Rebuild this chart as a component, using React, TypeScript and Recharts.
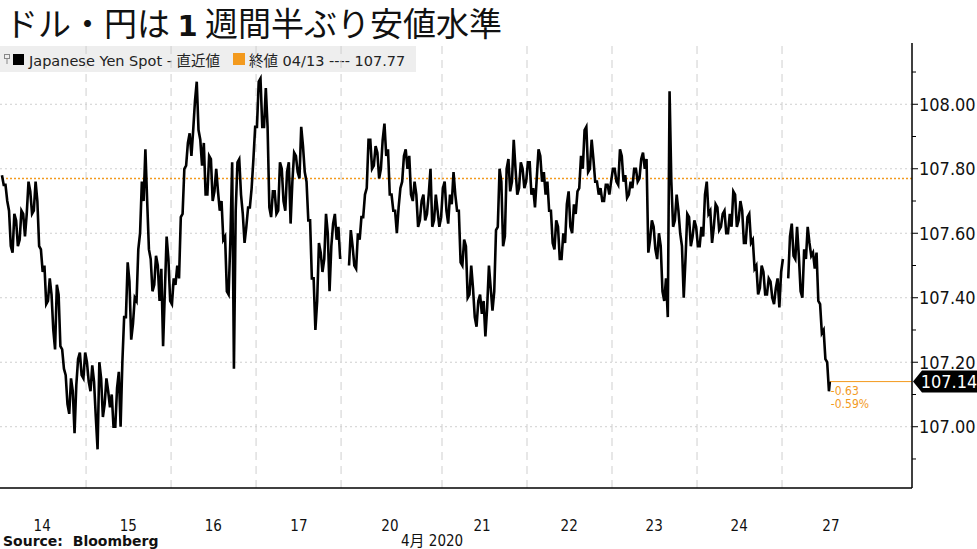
import React from 'react';
import { ComposedChart, Line, XAxis, YAxis, ReferenceLine, ReferenceDot } from 'recharts';

// Hourly high / low readings (USD/JPY), one entry per trading hour
const D14_HI = [107.78,107.75,107.67,107.66,107.64,107.67,107.66,107.76,107.73,107.76,107.70,107.55,107.50,107.46,107.41,107.44,107.41,107.24,107.16,107.15,107.11,107.21,107.23,107.23];
const D14_LO = [107.75,107.70,107.56,107.54,107.56,107.58,107.59,107.66,107.66,107.67,107.56,107.48,107.38,107.39,107.30,107.24,107.25,107.18,107.07,107.04,106.98,107.13,107.16,107.15];
const D15_HI = [107.20,107.19,107.14,107.20,107.15,107.15,107.11,107.10,107.12,107.17,107.34,107.51,107.45,107.40,107.55,107.76,107.86,107.70,107.52,107.53,107.50,107.49,107.59,107.52];
const D15_LO = [107.14,107.11,107.03,106.93,107.03,107.07,107.06,107.00,107.00,107.00,107.20,107.34,107.27,107.32,107.39,107.60,107.70,107.55,107.42,107.44,107.39,107.25,107.42,107.39];
const D16_HI = [107.46,107.50,107.65,107.80,107.88,107.91,108.01,108.07,107.89,107.88,107.84,107.83,107.80,107.73,107.70,107.59,107.58,107.82,107.82,107.83,107.66,107.68,107.74,107.93];
const D16_LO = [107.38,107.44,107.46,107.66,107.81,107.84,107.92,107.92,107.81,107.72,107.72,107.70,107.73,107.67,107.58,107.42,107.41,107.18,107.67,107.72,107.57,107.62,107.68,107.83];
const D17_HI = [108.07,108.08,108.05,107.93,107.73,107.73,107.82,107.80,107.79,107.82,107.85,107.84,107.93,107.87,107.76,107.64,107.46,107.57,107.54,107.66,107.60,107.63,107.66,107.62];
const D17_LO = [107.93,107.93,107.93,107.68,107.65,107.66,107.67,107.70,107.67,107.63,107.76,107.79,107.77,107.79,107.64,107.46,107.30,107.39,107.48,107.52,107.42,107.56,107.58,107.52];
const D20_HI = [107.61,107.56,107.60,107.65,107.72,107.89,107.89,107.87,107.85,107.89,107.94,107.86,107.72,107.67,107.74,107.84,107.86,107.84,107.76,107.72,107.70,107.72,107.72,107.80,107.72,107.67];
const D20_LO = [107.50,107.50,107.49,107.58,107.65,107.74,107.80,107.81,107.77,107.80,107.84,107.72,107.67,107.60,107.68,107.76,107.80,107.72,107.70,107.62,107.64,107.64,107.66,107.62,107.64,107.62];
const D21_HI = [107.74,107.76,107.72,107.79,107.72,107.67,107.58,107.56,107.50,107.43,107.39,107.41,107.39,107.50,107.43,107.61,107.80,107.76,107.80,107.83,107.89,107.80,107.82,107.80];
const D21_LO = [107.65,107.67,107.63,107.69,107.67,107.51,107.50,107.40,107.41,107.34,107.31,107.35,107.28,107.37,107.36,107.42,107.62,107.56,107.59,107.73,107.76,107.72,107.74,107.74];
const D22_HI = [107.82,107.82,107.74,107.86,107.84,107.79,107.76,107.67,107.64,107.62,107.60,107.69,107.73,107.69,107.73,107.84,107.92,107.93,107.89,107.83,107.76,107.74,107.75,107.75];
const D22_LO = [107.76,107.72,107.68,107.77,107.76,107.72,107.67,107.57,107.55,107.52,107.52,107.57,107.62,107.60,107.66,107.74,107.80,107.79,107.80,107.76,107.72,107.70,107.70,107.72];
const D23_HI = [107.80,107.80,107.86,107.84,107.78,107.76,107.80,107.80,107.83,107.85,107.83,107.64,107.62,107.60,107.56,107.46,108.04,107.76,107.72,107.67,107.56,107.66,107.65,107.64];
const D23_LO = [107.76,107.76,107.75,107.76,107.71,107.72,107.74,107.76,107.77,107.80,107.54,107.58,107.55,107.52,107.42,107.39,107.34,107.62,107.64,107.60,107.40,107.52,107.56,107.59];
const D24_HI = [107.62,107.62,107.72,107.76,107.67,107.69,107.68,107.66,107.67,107.66,107.73,107.72,107.70,107.67,107.65,107.66,107.58,107.50,107.50,107.48,107.46,107.45,107.43,107.46,107.52];
const D24_LO = [107.56,107.56,107.59,107.66,107.57,107.62,107.61,107.62,107.60,107.60,107.62,107.62,107.64,107.57,107.57,107.57,107.49,107.41,107.43,107.41,107.41,107.40,107.38,107.37,107.48];
const D27_HI = [107.59,107.63,107.62,107.53,107.55,107.62,107.57,107.54,107.54,107.38,107.30,107.20];
const D27_LO = [107.46,107.53,107.52,107.42,107.40,107.52,107.53,107.49,107.39,107.29,107.21,107.11];

const WEEKEND_GAP: (number | null)[] = [null, null];
const SHORT_GAP: (number | null)[] = [null];

const LAST_VALUE = 107.14;
const PREV_CLOSE = 107.77;
const CHANGE_TEXT = '-0.63';
const CHANGE_PCT_TEXT = '-0.59%';

const DAY_LABELS = ['14', '15', '16', '17', '20', '21', '22', '23', '24', '27'];
const DAY_LABEL_HOURS = [11.6, 35.9, 59.9, 84.1, 109.8, 135.8, 160.4, 184.4, 208.4, 234.3];
const DAY_BOUNDARY_HOURS = [24, 48, 72, 96, 124.5, 148.5, 172.5, 196.5, 220.5];
const Y_MAJOR = [107.0, 107.2, 107.4, 107.6, 107.8, 108.0];
const Y_TICKS = [106.9, 107.0, 107.1, 107.2, 107.3, 107.4, 107.5, 107.6, 107.7, 107.8, 107.9, 108.0, 108.1];
const X_DOMAIN: [number, number] = [-0.3, 257.2];
const Y_DOMAIN: [number, number] = [106.81, 108.19];

const HI: (number | null)[] = [
  ...D14_HI, ...D15_HI, ...D16_HI, ...D17_HI, ...WEEKEND_GAP,
  ...D20_HI, ...D21_HI, ...D22_HI, ...D23_HI, ...D24_HI, ...SHORT_GAP, ...D27_HI,
];
const LO: (number | null)[] = [
  ...D14_LO, ...D15_LO, ...D16_LO, ...D17_LO, ...WEEKEND_GAP,
  ...D20_LO, ...D21_LO, ...D22_LO, ...D23_LO, ...D24_LO, ...SHORT_GAP, ...D27_LO,
];

type Row = { t: number; v: number | null };

function buildSeries(): Row[] {
  const out: Row[] = [];
  let prev = HI[0] as number;
  for (let i = 0; i < HI.length; i++) {
    const hi = HI[i];
    const lo = LO[i];
    if (hi == null || lo == null) {
      out.push({ t: i + 0.5, v: null });
      continue;
    }
    const hiFirst = Math.abs(hi - prev) <= Math.abs(lo - prev);
    const a = hiFirst ? hi : lo;
    const b = hiFirst ? lo : hi;
    out.push({ t: i + 0.25, v: a });
    out.push({ t: i + 0.75, v: b });
    prev = b;
  }
  out.push({ t: HI.length, v: LAST_VALUE });
  return out;
}
const SERIES = buildSeries();
const LAST_T = HI.length;

const ORANGE = '#f39a1e';
const AXIS_FONT = "'DejaVu Sans Condensed', 'DejaVu Sans', 'Noto Sans CJK JP', sans-serif";
const LEGEND_FONT = "'DejaVu Sans', 'Noto Sans CJK JP', sans-serif";

const XTick = (props: any) => {
  const { x, y, payload } = props;
  const idx = DAY_LABEL_HOURS.indexOf(payload.value);
  return (
    <text x={x} y={y + 43} textAnchor="middle" fontSize={15} fontFamily={AXIS_FONT} fill="#111" style={{ fontStretch: 'condensed' }}>
      {DAY_LABELS[idx]}
    </text>
  );
};

const YTick = (props: any) => {
  const { x, y, payload } = props;
  const major = Y_MAJOR.some((m) => Math.abs(m - payload.value) < 1e-6);
  return (
    <g>
      <line x1={x} x2={x + (major ? 6 : 4)} y1={y} y2={y} stroke="#000" strokeWidth={1} />
      {major && (
        <text x={x + 7} y={y} dy="0.36em" textAnchor="start" fontSize={18} fontFamily={AXIS_FONT} fill="#111" style={{ fontStretch: 'condensed' }}>
          {payload.value.toFixed(2)}
        </text>
      )}
    </g>
  );
};

const TagShape = (props: any) => {
  const { cx, cy } = props;
  const pts = `${cx + 1},${cy} ${cx + 10},${cy - 11} ${cx + 66},${cy - 11} ${cx + 66},${cy + 11} ${cx + 10},${cy + 11}`;
  return (
    <g>
      <polygon points={pts} fill="#000" />
      <text x={cx + 37} y={cy} dy="0.36em" textAnchor="middle" fontSize={18} fontFamily={AXIS_FONT} fill="#fff" style={{ fontStretch: 'condensed' }}>
        {LAST_VALUE.toFixed(2)}
      </text>
    </g>
  );
};

const ChangeShape = (props: any) => {
  const { cx, cy } = props;
  return (
    <g>
      <text x={cx + 1} y={cy + 13} fontSize={12} fontFamily={AXIS_FONT} fill={ORANGE} style={{ fontStretch: 'condensed' }}>
        {CHANGE_TEXT}
      </text>
      <text x={cx + 1} y={cy + 26} fontSize={12} fontFamily={AXIS_FONT} fill={ORANGE} style={{ fontStretch: 'condensed' }}>
        {CHANGE_PCT_TEXT}
      </text>
    </g>
  );
};

export default function App() {
  return (
    <div style={{ position: 'relative', width: 977, height: 549, background: '#fff', overflow: 'hidden' }}>
      <style>{'body{margin:0;}'}</style>
      <div
        style={{
          position: 'absolute', left: 5, top: 2, fontSize: 33, lineHeight: '40px',
          fontFamily: "'Noto Sans CJK JP', sans-serif", color: '#111', whiteSpace: 'nowrap',
        }}
      >
        ドル・円は <b style={{ fontFamily: "'DejaVu Sans', sans-serif", fontSize: 29 }}>1</b> 週間半ぶり安値水準
      </div>
      <div
        style={{
          position: 'absolute', left: 0, top: 46, width: 416, height: 26, background: '#eeeeee',
          display: 'flex', alignItems: 'center', fontSize: 14.5, fontFamily: LEGEND_FONT,
          color: '#222', whiteSpace: 'nowrap',
        }}
      >
        <svg width={9} height={14} style={{ marginLeft: 3 }}>
          <rect x={1.5} y={2.5} width={5} height={4} fill="none" stroke="#888" />
          <line x1={4} y1={6.5} x2={4} y2={12} stroke="#888" />
        </svg>
        <span style={{ display: 'inline-block', width: 11, height: 11, background: '#000', marginLeft: 1 }} />
        <span style={{ marginLeft: 5 }}>Japanese Yen Spot - 直近値</span>
        <span style={{ display: 'inline-block', width: 12, height: 12, background: ORANGE, marginLeft: 13 }} />
        <span style={{ marginLeft: 4 }}>終値 04/13 ---- 107.77</span>
      </div>
      <div style={{ position: 'absolute', left: 0, top: 0 }}>
        <ComposedChart width={977} height={549} data={SERIES} margin={{ top: 43, right: 0, bottom: 0, left: 0 }}>
          <XAxis
            dataKey="t" type="number" domain={X_DOMAIN} allowDataOverflow ticks={DAY_LABEL_HOURS}
            interval={0} height={61} tickLine={false} tickSize={0} tickMargin={0}
            axisLine={{ stroke: '#000', strokeWidth: 1.5 }} tick={<XTick />}
          />
          <YAxis
            orientation="right" type="number" domain={Y_DOMAIN} allowDataOverflow ticks={Y_TICKS}
            interval={0} width={65} tickLine={false} tickSize={0} tickMargin={0}
            axisLine={{ stroke: '#000', strokeWidth: 1.5 }} tick={<YTick />}
          />
          {DAY_BOUNDARY_HOURS.map((h) => (
            <ReferenceLine key={'v' + h} x={h} stroke="#cfcfcf" strokeDasharray="8 6" />
          ))}
          {Y_MAJOR.map((v) => (
            <ReferenceLine key={'h' + v} y={v} stroke="#cfcfcf" strokeDasharray="2 3" />
          ))}
          <ReferenceLine y={PREV_CLOSE} stroke={ORANGE} strokeDasharray="2 2" strokeWidth={1.5} />
          <ReferenceLine
            segment={[{ x: LAST_T, y: LAST_VALUE }, { x: X_DOMAIN[1], y: LAST_VALUE }]}
            stroke={ORANGE} strokeWidth={1}
          />
          <Line
            dataKey="v" type="linear" stroke="#000" strokeWidth={2.6} dot={false}
            isAnimationActive={false} connectNulls={false} strokeLinejoin="miter"
          />
          <ReferenceDot x={X_DOMAIN[1]} y={LAST_VALUE} r={0} ifOverflow="visible" shape={<TagShape />} />
          <ReferenceDot x={LAST_T} y={LAST_VALUE} r={0} ifOverflow="visible" shape={<ChangeShape />} />
        </ComposedChart>
      </div>
      <div style={{ position: 'absolute', left: 401, top: 532, fontSize: 15, fontFamily: AXIS_FONT, fontStretch: 'condensed', color: '#111', lineHeight: '18px' }}>
        4月 2020
      </div>
      <div style={{ position: 'absolute', left: 3, top: 532, fontSize: 14, fontWeight: 'bold', fontFamily: "'DejaVu Sans', sans-serif", color: '#111', lineHeight: '18px' }}>
        Source:&nbsp; Bloomberg
      </div>
    </div>
  );
}
